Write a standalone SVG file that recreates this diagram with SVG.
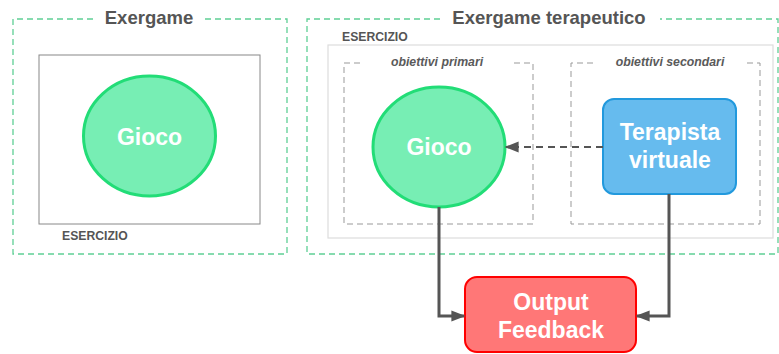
<svg xmlns="http://www.w3.org/2000/svg" width="779" height="354" viewBox="0 0 779 354">
<defs>
<marker id="ahb" viewBox="0 0 10 10" refX="9" refY="5" markerWidth="14" markerHeight="14" markerUnits="userSpaceOnUse" orient="auto"><path d="M0,1 L10,5 L0,9 z" fill="#555"/></marker>
<style>
.outer{fill:none;stroke:#5fcf95;stroke-width:1.3;stroke-dasharray:6 4}
.title{font-family:"Liberation Sans",Arial,sans-serif;font-weight:bold;font-size:18.5px;fill:#555;text-anchor:middle}
.lbl{font-family:"Liberation Sans",Arial,sans-serif;font-weight:bold;font-size:12.2px;fill:#555}
.sub{font-family:"Liberation Sans",Arial,sans-serif;font-weight:bold;font-style:italic;font-size:12.3px;fill:#5a5a5a;text-anchor:middle}
.box{fill:none;stroke:#999;stroke-width:1;stroke-dasharray:6 4}
.node{font-family:"Liberation Sans",Arial,sans-serif;font-weight:bold;font-size:23px;fill:#fff;text-anchor:middle}
.gioco{fill:#77eeb4;stroke:#22dd77;stroke-width:3}
.conn{fill:none;stroke:#555;stroke-width:3}
</style>
</defs>
<g id="exergame">
<path class="outer" d="M93,19 H13 V254 H287 V19 H205"/>
<text class="title" x="149" y="24">Exergame</text>
<rect x="39" y="55" width="221" height="169" fill="none" stroke="#888" stroke-width="1"/>
<text class="lbl" x="62" y="240">ESERCIZIO</text>
</g>
<g id="gioco1">
<ellipse class="gioco" cx="149.5" cy="136" rx="66" ry="60"/>
<text class="node" x="149.5" y="145">Gioco</text>
</g>
<g id="exergame-terapeutico">
<path class="outer" d="M440,19 H307 V254 H778 V19 H660"/>
<text class="title" x="549" y="24">Exergame terapeutico</text>
<rect x="328" y="45" width="445" height="193" fill="none" stroke="#ddd" stroke-width="1.2"/>
<text class="lbl" x="342" y="41">ESERCIZIO</text>
<path class="box" d="M360,63 H344 V224 H533 V63 H513"/>
<text class="sub" x="437" y="66">obiettivi primari</text>
<path class="box" d="M593,63 H571 V224 H760 V63 H745"/>
<text class="sub" x="670" y="66">obiettivi secondari</text>
</g>
<g id="gioco2">
<ellipse class="gioco" cx="439" cy="147" rx="66" ry="60"/>
<text class="node" x="439" y="155">Gioco</text>
</g>
<g id="terapista">
<rect x="603" y="99" width="133" height="95" rx="11" fill="#66bbee" stroke="#2299dd" stroke-width="2"/>
<text class="node" x="670" y="140">Terapista</text>
<text class="node" x="670" y="168">virtuale</text>
</g>
<g id="output">
<rect x="465" y="277" width="171" height="75" rx="12" fill="#ff7777" stroke="#ff0000" stroke-width="2"/>
<text class="node" x="551" y="310">Output</text>
<text class="node" x="551" y="338">Feedback</text>
</g>
<g id="connectors">
<path d="M603,147 H506" fill="none" stroke="#555" stroke-width="2" stroke-dasharray="7 5" marker-end="url(#ahb)"/>
<path class="conn" d="M439,207 V316 H464" marker-end="url(#ahb)"/>
<path class="conn" d="M669,194 V316 H637" marker-end="url(#ahb)"/>
</g>
</svg>
